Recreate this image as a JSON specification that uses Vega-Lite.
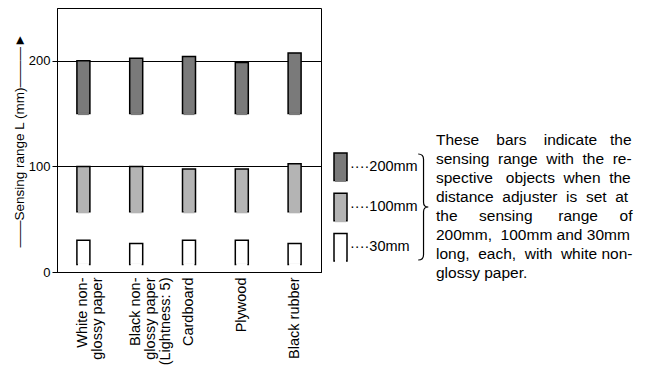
{
  "$schema": "https://vega.github.io/schema/vega-lite/v6.json",
  "padding": {"left": 11, "top": 7, "right": 0, "bottom": 0},
  "config": {"font": "Liberation Sans", "view": {"stroke": null}, "concat": {"spacing": 11}},
  "hconcat": [
    {
      "width": 264,
      "height": 264,
      "view": {"stroke": "#000", "strokeWidth": 1},
      "data": {"values": [
        {"material": "White non-glossy paper", "setting": "200mm", "start": 150, "end": 200},
        {"material": "White non-glossy paper", "setting": "100mm", "start": 57, "end": 100},
        {"material": "White non-glossy paper", "setting": "30mm", "start": 7, "end": 30},
        {"material": "Black non-glossy paper (Lightness: 5)", "setting": "200mm", "start": 150, "end": 202.5},
        {"material": "Black non-glossy paper (Lightness: 5)", "setting": "100mm", "start": 57, "end": 100},
        {"material": "Black non-glossy paper (Lightness: 5)", "setting": "30mm", "start": 7, "end": 27},
        {"material": "Cardboard", "setting": "200mm", "start": 150, "end": 204},
        {"material": "Cardboard", "setting": "100mm", "start": 57, "end": 97.5},
        {"material": "Cardboard", "setting": "30mm", "start": 7, "end": 30},
        {"material": "Plywood", "setting": "200mm", "start": 150, "end": 198.5},
        {"material": "Plywood", "setting": "100mm", "start": 57, "end": 97.5},
        {"material": "Plywood", "setting": "30mm", "start": 7, "end": 30},
        {"material": "Black rubber", "setting": "200mm", "start": 150, "end": 207.5},
        {"material": "Black rubber", "setting": "100mm", "start": 57, "end": 102.5},
        {"material": "Black rubber", "setting": "30mm", "start": 7, "end": 27}
      ]},
      "encoding": {
        "x": {
          "field": "material", "type": "nominal", "sort": null, "title": null,
          "axis": {
            "ticks": false, "domainColor": "#000", "domainWidth": 1,
            "labelAngle": -90, "labelAlign": "right", "labelBaseline": "middle",
            "labelFontSize": 14.5, "labelLineHeight": 15, "labelColor": "#000", "labelPadding": 5,
            "labelExpr": "datum.value == 'White non-glossy paper' ? ['White non-', 'glossy paper'] : datum.value == 'Black non-glossy paper (Lightness: 5)' ? ['Black non-', 'glossy paper', '(Lightness: 5)'] : datum.label"
          }
        }
      },
      "layer": [
        {
          "mark": {"type": "bar", "size": 13, "stroke": "#000", "strokeWidth": 1.5},
          "encoding": {
            "y": {
              "field": "start", "type": "quantitative", "scale": {"domain": [0, 250], "nice": false},
              "axis": {
                "title": "——Sensing range L (mm)———►",
                "values": [0, 100, 200], "grid": true, "gridColor": "#000", "gridOpacity": 1, "gridWidth": 1,
                "domainColor": "#000", "tickColor": "#000", "tickSize": 5,
                "labelFontSize": 13, "labelColor": "#000", "labelPadding": 2,
                "titleFontSize": 13.5, "titleFontWeight": "normal", "titleColor": "#000", "titlePadding": 2
              }
            },
            "y2": {"field": "end"},
            "fill": {"field": "setting", "type": "nominal", "scale": {"domain": ["200mm", "100mm", "30mm"], "range": ["#7a7a7a", "#b4b4b4", "#ffffff"]}, "legend": null}
          }
        },
        {
          "mark": {"type": "tick", "size": 11, "thickness": 3, "opacity": 1},
          "encoding": {
            "y": {"field": "start", "type": "quantitative"},
            "color": {"field": "setting", "type": "nominal", "scale": {"domain": ["200mm", "100mm", "30mm"], "range": ["#7a7a7a", "#b4b4b4", "#ffffff"]}, "legend": null}
          }
        }
      ]
    },
    {
      "width": 300,
      "height": 264,
      "view": {"stroke": null},
      "layer": [
        {
          "data": {"values": [
            {"setting": "200mm", "label": "····200mm"},
            {"setting": "100mm", "label": "····100mm"},
            {"setting": "30mm", "label": "····30mm"}
          ]},
          "encoding": {
            "y": {"field": "setting", "type": "nominal", "scale": {"type": "band", "domain": ["200mm", "100mm", "30mm"], "range": [145, 253], "paddingInner": 0.32, "paddingOuter": 0}, "axis": null}
          },
          "layer": [
            {
              "mark": {"type": "bar", "stroke": "#000", "strokeWidth": 1.5},
              "encoding": {
                "x": {"datum": 0, "type": "quantitative", "scale": {"domain": [0, 300]}, "axis": null},
                "x2": {"datum": 13},
                "fill": {"field": "setting", "type": "nominal", "scale": {"domain": ["200mm", "100mm", "30mm"], "range": ["#7a7a7a", "#b4b4b4", "#ffffff"]}, "legend": null}
              }
            },
            {
              "mark": {"type": "rule", "strokeWidth": 3},
              "encoding": {
                "y": {"field": "setting", "type": "nominal", "bandPosition": 1},
                "x": {"datum": 1, "type": "quantitative"},
                "x2": {"datum": 12},
                "color": {"field": "setting", "type": "nominal", "scale": {"domain": ["200mm", "100mm", "30mm"], "range": ["#7a7a7a", "#b4b4b4", "#ffffff"]}, "legend": null}
              }
            },
            {
              "mark": {"type": "text", "align": "left", "baseline": "middle", "fontSize": 14.5, "color": "#000"},
              "encoding": {
                "x": {"datum": 16, "type": "quantitative"},
                "text": {"field": "label"}
              }
            },
            {
              "transform": [{"filter": "datum.setting === '100mm'"}],
              "mark": {"type": "point", "shape": "M-0.09,-1 Q0.01,-1 0.01,-0.9 L0.01,-0.09 Q0.01,0 0.1,0 Q0.01,0 0.01,0.09 L0.01,0.9 Q0.01,1 -0.09,1", "size": 11236, "filled": false, "color": "#000", "strokeWidth": 1.2, "opacity": 1},
              "encoding": {
                "x": {"datum": 89, "type": "quantitative"}
              }
            }
          ]
        },
        {
          "data": {"values": [
            {"line": 1, "text": "These \u00a0\u00a0\u00a0bars \u00a0\u00a0\u00a0indicate \u00a0\u00a0the"},
            {"line": 2, "text": "sensing \u00a0range \u00a0with \u00a0the \u00a0re-"},
            {"line": 3, "text": "spective \u00a0\u00a0objects \u00a0when \u00a0the"},
            {"line": 4, "text": "distance \u00a0adjuster \u00a0is \u00a0set \u00a0at"},
            {"line": 5, "text": "the \u00a0\u00a0\u00a0\u00a0sensing \u00a0\u00a0\u00a0\u00a0\u00a0range \u00a0\u00a0\u00a0\u00a0of"},
            {"line": 6, "text": "200mm, \u00a0100mm and 30mm"},
            {"line": 7, "text": "long, \u00a0each, \u00a0with \u00a0white non-"},
            {"line": 8, "text": "glossy paper."}
          ]},
          "mark": {"type": "text", "align": "left", "baseline": "middle", "fontSize": 15.5, "color": "#000"},
          "encoding": {
            "y": {"field": "line", "type": "ordinal", "scale": {"type": "point", "range": [132, 265], "padding": 0}, "axis": null},
            "x": {"datum": 102, "type": "quantitative"},
            "text": {"field": "text"}
          }
        }
      ],
      "resolve": {"scale": {"y": "independent"}}
    }
  ]
}
